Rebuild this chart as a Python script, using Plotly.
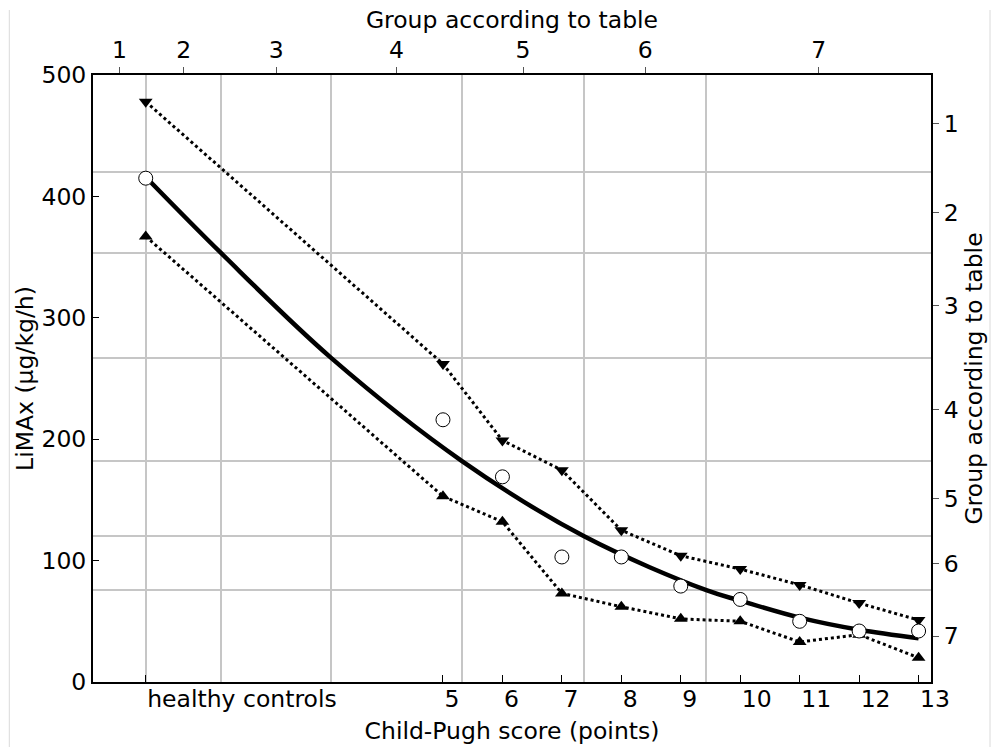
import plotly.graph_objects as go

# ---------------- data ----------------
score_x = [0, 5, 6, 7, 8, 9, 10, 11, 12, 13]
score_labels = ["healthy controls", "5", "6", "7", "8", "9", "10", "11", "12", "13"]
limax_mean = [415, 216, 169, 103, 103, 79, 68, 50, 42, 42]
limax_upper = [478, 262, 199, 174.5, 125, 104, 93, 80, 65, 51]
limax_lower = [367, 153, 132, 73, 62, 52, 50, 33, 39, 20]

fit_x = [0, 1.274, 3.118, 5.32, 7.374, 9.43, 10, 11, 12, 13]
fit_y = [416, 353, 267, 182, 120, 75.6, 67, 53, 43, 36]

group_labels = ["1", "2", "3", "4", "5", "6", "7"]
group_x_bounds = [0, 1.274, 3.118, 5.32, 7.374, 9.43]   # on the score axis
group_y_bounds = [420, 353, 267, 182, 120, 75.6]        # on the LiMAx axis

x_range = [-0.887, 13.209]
y_range = [0, 500]
y_ticks = [0, 100, 200, 300, 400, 500]

# group label centres (between boundaries)
x_edges = [x_range[0]] + group_x_bounds + [x_range[1]]
x_centers = [(a + b) / 2 for a, b in zip(x_edges[:-1], x_edges[1:])]
y_edges = [y_range[1]] + group_y_bounds + [y_range[0]]
y_centers = [(a + b) / 2 for a, b in zip(y_edges[:-1], y_edges[1:])]

FONT = "DejaVu Sans"
FS = 23.5
GRID = "#c6c6c6"

fig = go.Figure()

fig.add_trace(go.Scatter(
    x=score_x, y=limax_upper, mode="lines+markers",
    line=dict(color="black", width=3, dash="dot"),
    marker=dict(symbol="triangle-down", size=12, color="black"),
    showlegend=False, hoverinfo="skip"))
fig.add_trace(go.Scatter(
    x=score_x, y=limax_lower, mode="lines+markers",
    line=dict(color="black", width=3, dash="dot"),
    marker=dict(symbol="triangle-up", size=12, color="black"),
    showlegend=False, hoverinfo="skip"))
fig.add_trace(go.Scatter(
    x=fit_x, y=fit_y, mode="lines",
    line=dict(color="black", width=4.5, shape="spline", smoothing=1.0),
    showlegend=False, hoverinfo="skip"))
fig.add_trace(go.Scatter(
    x=score_x, y=limax_mean, mode="markers",
    marker=dict(symbol="circle", size=14, color="white",
                line=dict(color="black", width=1)),
    showlegend=False, hoverinfo="skip"))
# carrier trace for the group axes (top / right)
fig.add_trace(go.Scatter(x=[None], y=[None], xaxis="x2", yaxis="y2",
                         showlegend=False, hoverinfo="skip"))

fig.update_layout(
    width=992, height=747,
    margin=dict(l=93, r=61, t=75, b=65),
    paper_bgcolor="white", plot_bgcolor="white",
    font=dict(family=FONT, size=FS, color="black"),
    xaxis=dict(
        range=x_range, tickmode="array", tickvals=score_x, ticktext=score_labels,
        ticks="inside", ticklen=7, tickwidth=1, tickcolor="black",
        ticklabelposition="outside right", ticklabelstandoff=-5,
        showgrid=False, zeroline=False,
        showline=True, linecolor="black", linewidth=2,
        title=dict(text="Child-Pugh score (points)", standoff=10,
                   font=dict(size=FS)),
        automargin=False),
    yaxis=dict(
        range=y_range, tickmode="array", tickvals=y_ticks,
        ticks="inside", ticklen=6, tickwidth=1, tickcolor="black",
        showgrid=False, zeroline=False,
        showline=True, linecolor="black", linewidth=2,
        title=dict(text="LiMAx (µg/kg/h)", standoff=1, font=dict(size=FS)),
        automargin=False),
    xaxis2=dict(
        overlaying="x", side="top", anchor="y2", range=x_range,
        tickmode="array", tickvals=x_centers, ticktext=group_labels,
        ticks="outside", ticklen=6, tickwidth=1, tickcolor="#555555",
        showgrid=False, zeroline=False,
        minor=dict(tickmode="array", tickvals=group_x_bounds, showgrid=True,
                   gridcolor=GRID, gridwidth=2, ticks=""),
        showline=True, linecolor="black", linewidth=2,
        title=dict(text="Group according to table", standoff=0,
                   font=dict(size=FS)),
        automargin=False),
    yaxis2=dict(
        overlaying="y", side="right", anchor="x2", range=y_range,
        tickmode="array", tickvals=y_centers, ticktext=group_labels,
        ticks="outside", ticklen=6, tickwidth=1, tickcolor="#555555",
        showgrid=False, zeroline=False,
        minor=dict(tickmode="array", tickvals=group_y_bounds, showgrid=True,
                   gridcolor=GRID, gridwidth=2, ticks=""),
        showline=True, linecolor="black", linewidth=2,
        title=dict(text="Group according to table", standoff=8,
                   font=dict(size=FS)),
        automargin=False),
)

# faint figure frame lines seen at left and right edges
for xp in [(9.3 - 93) / 838, (990 - 93) / 838]:
    fig.add_shape(type="line", xref="paper", yref="paper",
                  x0=xp, x1=xp, y0=(682 - 747) / 607, y1=(682 - 10) / 607,
                  line=dict(color="#dadada", width=1), layer="below")

fig.write_html("out.html")
